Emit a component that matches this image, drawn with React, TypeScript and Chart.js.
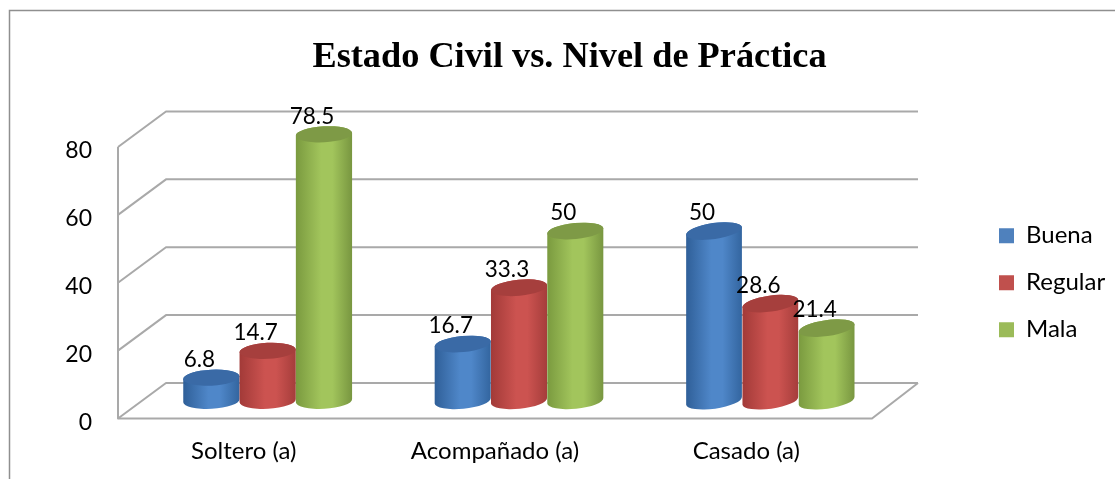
import { useEffect, useRef } from "react";
import { Chart, registerables } from "chart.js";

Chart.register(...registerables);

const categories = ["Soltero (a)", "Acompañado (a)", "Casado (a)"];
const buena = [6.8, 16.7, 50];
const regular = [14.7, 33.3, 28.6];
const mala = [78.5, 50, 21.4];
const yTicks = [0, 20, 40, 60, 80];
const titleText = "Estado Civil vs. Nivel de Práctica";

const DEPTH_X = 48;
const DEPTH_Y = 35.5;
const RY = 8;
const SANS = "Lato, Carlito, sans-serif";

const shades = [
  { edge: "#2f5f98", mid: "#4f87c9", right: "#33659f", top: "#3a6aa6" },
  { edge: "#a23a38", mid: "#cc5350", right: "#a53d3b", top: "#a63f3d" },
  { edge: "#7a9a3f", mid: "#a2c55c", right: "#789640", top: "#7e9a46" },
];

const cylinders = {
  id: "cylinders",
  beforeLayout(chart: any) {
    const lg = chart.legend;
    if (lg && !lg.__wrapped) {
      const orig = lg.fit.bind(lg);
      lg.fit = () => {
        orig();
        lg.width = 243;
      };
      lg.__wrapped = true;
    }
  },
  afterLayout(chart: any) {
    const lg = chart.legend;
    const p = lg.options.labels.padding;
    lg.left = 999 - p;
    lg.right = chart.width;
  },
  beforeDraw(chart: any) {
    const { ctx, width, height } = chart;
    ctx.save();
    ctx.fillStyle = "#ffffff";
    ctx.fillRect(0, 0, width, height);
    ctx.strokeStyle = "#8f8f8f";
    ctx.lineWidth = 1.5;
    ctx.beginPath();
    ctx.moveTo(9.5, height);
    ctx.lineTo(9.5, 10.5);
    ctx.lineTo(width, 10.5);
    ctx.stroke();
    ctx.restore();
  },
  beforeDatasetsDraw(chart: any) {
    const { ctx, chartArea, scales } = chart;
    const y = scales.y;
    const { left, right, bottom, top } = chartArea;
    ctx.save();
    // walls and floor
    ctx.strokeStyle = "#a9a9a9";
    ctx.lineWidth = 2;
    ctx.lineJoin = "round";
    yTicks.forEach((v) => {
      const py = y.getPixelForValue(v);
      ctx.beginPath();
      ctx.moveTo(left, py);
      ctx.lineTo(left + DEPTH_X, py - DEPTH_Y);
      ctx.lineTo(right + DEPTH_X - 2, py - DEPTH_Y);
      ctx.stroke();
    });
    ctx.beginPath();
    ctx.moveTo(left, top);
    ctx.lineTo(left, bottom);
    ctx.lineTo(right, bottom);
    ctx.lineTo(right + DEPTH_X - 2, bottom - DEPTH_Y);
    ctx.stroke();

    // cylinders, from the library's bar elements
    chart.data.datasets.forEach((_: any, di: number) => {
      const meta = chart.getDatasetMeta(di);
      const s = shades[di];
      meta.data.forEach((bar: any, i: number) => {
        const cx = bar.x + DEPTH_X / 2;
        const rx = bar.width / 2;
        const by = bar.base - DEPTH_Y / 2;
        const ty = bar.y - DEPTH_Y / 2;
        const rot = ((-3 - 2.5 * i) * Math.PI) / 180;
        const g = ctx.createLinearGradient(cx - rx, 0, cx + rx, 0);
        g.addColorStop(0, s.edge);
        g.addColorStop(0.45, s.mid);
        g.addColorStop(0.65, s.mid);
        g.addColorStop(1, s.right);
        ctx.fillStyle = g;
        ctx.beginPath();
        ctx.ellipse(cx, by, rx, RY, rot, Math.PI, 0, true);
        ctx.ellipse(cx, ty, rx, RY, rot, 0, Math.PI, true);
        ctx.closePath();
        ctx.fill();
        ctx.fillStyle = s.top;
        ctx.beginPath();
        ctx.ellipse(cx, ty, rx, RY, rot, 0, Math.PI * 2);
        ctx.fill();
      });
    });

    // value labels
    ctx.fillStyle = "#000000";
    ctx.font = `22.5px ${SANS}`;
    ctx.textAlign = "center";
    ctx.textBaseline = "middle";
    chart.data.datasets.forEach((ds: any, di: number) => {
      chart.getDatasetMeta(di).data.forEach((bar: any, i: number) => {
        ctx.fillText(String(ds.data[i]), bar.x + DEPTH_X / 2 - 12, bar.y - DEPTH_Y / 2 - 18);
      });
    });
    ctx.restore();
    return false;
  },
};

export default function App() {
  const ref = useRef<HTMLCanvasElement>(null);
  useEffect(() => {
    document.body.style.margin = "0";
    const chart = new Chart(ref.current!, {
      type: "bar",
      data: {
        labels: categories,
        datasets: [
          { label: "Buena", data: buena, backgroundColor: "#4f81bd" },
          { label: "Regular", data: regular, backgroundColor: "#c0504d" },
          { label: "Mala", data: mala, backgroundColor: "#9bbb59" },
        ],
      },
      options: {
        responsive: false,
        animation: false,
        layout: { padding: { left: 24, right: 0, top: 0, bottom: 0 } },
        datasets: { bar: { categoryPercentage: 0.672, barPercentage: 1 } },
        plugins: {
          title: {
            display: true,
            text: titleText,
            color: "#000000",
            font: { family: "'Liberation Serif', serif", size: 36.3, weight: "bold" },
            padding: { top: 36, bottom: 67.4 },
          },
          legend: {
            display: true,
            position: "right",
            fullSize: false,
            labels: {
              boxWidth: 15,
              boxHeight: 15,
              padding: 23,
              color: "#000000",
              font: { family: SANS, size: 24 },
            },
          },
          tooltip: { enabled: false },
        },
        scales: {
          x: {
            afterFit: (s: any) => {
              s.height = 60.5;
            },
            grid: { display: false },
            border: { display: false },
            ticks: { color: "#000000", font: { family: SANS, size: 24 }, padding: 10, maxRotation: 0 },
          },
          y: {
            min: 0,
            max: 80,
            afterFit: (s: any) => {
              s.width = 94;
            },
            grid: { display: false },
            border: { display: false },
            afterBuildTicks: (s: any) => {
              s.ticks = yTicks.map((value) => ({ value }));
            },
            ticks: { color: "#000000", font: { family: SANS, size: 23 }, padding: 18, labelOffset: 4 },
          },
        },
      } as any,
      plugins: [cylinders as any],
    });
    return () => chart.destroy();
  }, []);
  return <canvas ref={ref} width={1115} height={479} style={{ display: "block" }} />;
}
